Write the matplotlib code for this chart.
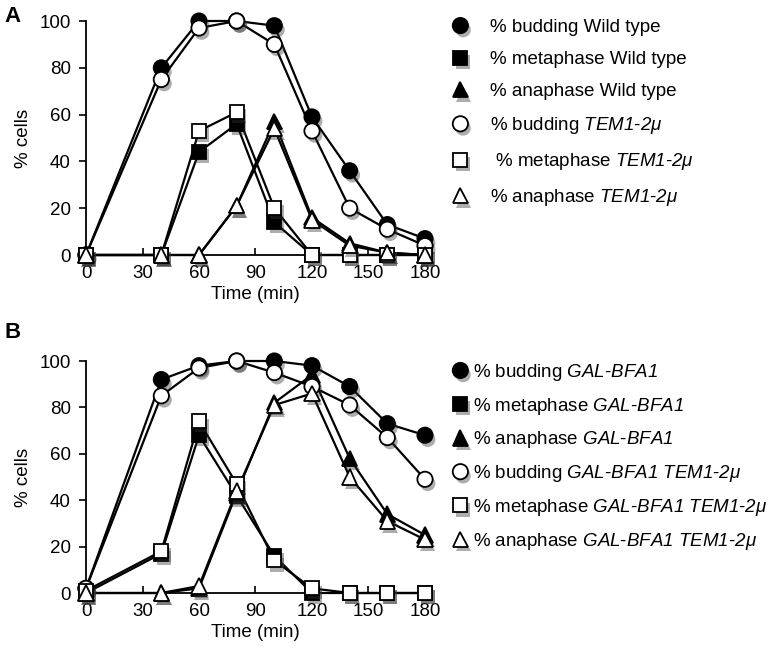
import matplotlib
matplotlib.use("Agg")
import matplotlib.pyplot as plt
import matplotlib.patheffects as pe

plt.rcParams['font.family'] = ['Liberation Sans', 'DejaVu Sans']
plt.rcParams['mathtext.fontset'] = 'custom'
plt.rcParams['mathtext.rm'] = 'Liberation Sans:italic'
plt.rcParams['mathtext.it'] = 'Liberation Sans:italic'
plt.rcParams['mathtext.bf'] = 'Liberation Sans:bold'

time = [0, 40, 60, 80, 100, 120, 140, 160, 180]
xticks = [0, 30, 60, 90, 120, 150, 180]
yticks = [0, 20, 40, 60, 80, 100]

# Panel A
a_bud_wt = [0, 80, 100, 100, 98, 59, 36, 13, 7]
a_met_wt = [0, 0, 44, 56, 14, 0, 0, 0, 0]
a_ana_wt = [0, 0, 0, 21, 57, 16, 5, 1, 0]
a_bud_tem = [0, 75, 97, 100, 90, 53, 20, 11, 4]
a_met_tem = [0, 0, 53, 61, 20, 0, 0, 0, 0]
a_ana_tem = [0, 0, 0, 21, 54, 15, 4, 1, 0]
a_labels = ['% budding Wild type',
            '% metaphase Wild type',
            '% anaphase Wild type',
            r'% budding $\mathit{TEM1}$-$\mathit{2\mu}$',
            r' % metaphase $\mathit{TEM1}$-$\mathit{2\mu}$',
            r'% anaphase $\mathit{TEM1}$-$\mathit{2\mu}$']

# Panel B
b_bud_gal = [2, 92, 98, 100, 100, 98, 89, 73, 68]
b_met_gal = [0, 17, 68, 42, 16, 0, 0, 0, 0]
b_ana_gal = [0, 0, 2, 43, 82, 94, 58, 34, 25]
b_bud_gt = [2, 85, 97, 100, 95, 89, 81, 67, 49]
b_met_gt = [1, 18, 74, 47, 14, 2, 0, 0, 0]
b_ana_gt = [0, 0, 3, 44, 81, 86, 50, 31, 23]
b_labels = [r'% budding $\mathit{GAL}$-$\mathit{BFA1}$',
            r'% metaphase $\mathit{GAL}$-$\mathit{BFA1}$',
            r'% anaphase $\mathit{GAL}$-$\mathit{BFA1}$',
            r'% budding $\mathit{GAL}$-$\mathit{BFA1\ TEM1}$-$\mathit{2\mu}$',
            r'% metaphase $\mathit{GAL}$-$\mathit{BFA1\ TEM1}$-$\mathit{2\mu}$',
            r'% anaphase $\mathit{GAL}$-$\mathit{BFA1\ TEM1}$-$\mathit{2\mu}$']

styles = [('o', 'k', 11), ('s', 'k', 10), ('^', 'k', 11),
          ('o', 'w', 11), ('s', 'w', 10), ('^', 'w', 11)]

shadow = [pe.SimplePatchShadow(offset=(2, -3), shadow_rgbFace='0.2', alpha=0.4), pe.Normal()]

W, H = 772, 653
FS = 13.5
fig = plt.figure(figsize=(W / 100, H / 100), dpi=100)


def panel(rect, series, labels, leg_anchor, textpad, spacing, letter, letter_pos):
    ax = fig.add_axes(rect)
    handles = []
    for ys, (m, fc, ms), lab in zip(series, styles, labels):
        ax.plot(time, ys, color='k', lw=1.6, clip_on=False, zorder=2)
        h, = ax.plot(time, ys, ls='none', marker=m, ms=ms, mfc=fc, mec='k', mew=1.3,
                     clip_on=False, zorder=3, path_effects=shadow, label=lab)
        handles.append(h)
    ax.set_xlim(0, 180)
    ax.set_ylim(0, 100)
    ax.set_xticks(xticks)
    ax.set_yticks(yticks)
    ax.spines['top'].set_visible(False)
    ax.spines['right'].set_visible(False)
    ax.spines['left'].set_linewidth(1.3)
    ax.spines['bottom'].set_linewidth(1.3)
    ax.tick_params(axis='x', direction='in', length=5, width=1.2, labelsize=FS, pad=7)
    ax.tick_params(axis='y', direction='out', length=5, width=1.2, labelsize=FS, pad=6)
    ax.set_xlabel('Time (min)', fontsize=FS, labelpad=3)
    ax.set_ylabel('% cells', fontsize=FS, labelpad=5)
    fig.legend(handles=handles, loc='upper left',
               bbox_to_anchor=(leg_anchor[0] / W, 1 - leg_anchor[1] / H),
               bbox_transform=fig.transFigure, frameon=False, fontsize=FS,
               handlelength=1.0, handletextpad=textpad, labelspacing=spacing,
               borderpad=0, borderaxespad=0)
    fig.text(letter_pos[0] / W, 1 - letter_pos[1] / H, letter, fontsize=16,
             fontweight='bold', ha='left', va='center')
    return ax


panel([86 / W, 1 - 255 / H, 339 / W, 234 / H],
      [a_bud_wt, a_met_wt, a_ana_wt, a_bud_tem, a_met_tem, a_ana_tem],
      a_labels, (451, 19), 1.07, 0.8, 'A', (4, 16))
panel([86 / W, 1 - 593 / H, 339 / W, 232 / H],
      [b_bud_gal, b_met_gal, b_ana_gal, b_bud_gt, b_met_gt, b_ana_gt],
      b_labels, (451, 362), 0.19, 0.68, 'B', (4, 333))

fig.savefig('out.png', dpi=100)
